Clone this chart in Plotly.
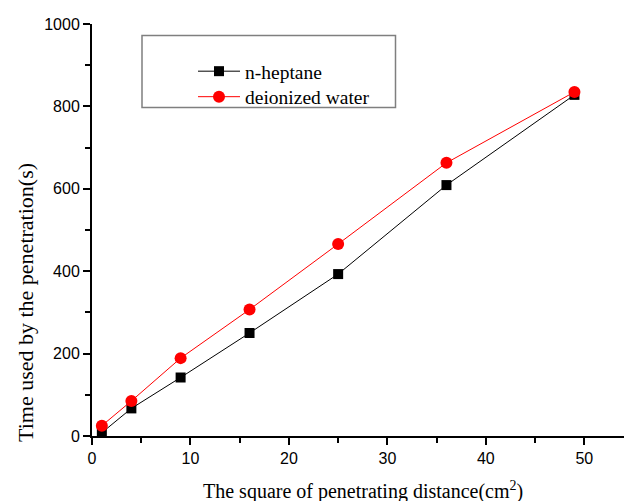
import plotly.graph_objects as go

x_vals = [1, 4, 9, 16, 25, 36, 49]
heptane = [8, 67, 142, 250, 393, 609, 828]
water = [25, 85, 189, 307, 466, 663, 835]
x_ticks = [0, 10, 20, 30, 40, 50]
y_ticks = [0, 200, 400, 600, 800, 1000]

L, R, T, B = 92, 0, 24, 65
W, H = 624, 501
pw = W - L - R
ph = H - T - B

def px(x):
    return (x - L) / pw

def py(y):
    return (H - B - y) / ph

fig = go.Figure()
fig.add_trace(go.Scatter(
    x=x_vals, y=heptane, name="n-heptane", mode="lines+markers",
    line=dict(color="#000000", width=1),
    marker=dict(symbol="square", size=10, color="#000000"),
    legend="legend",
))
fig.add_trace(go.Scatter(
    x=x_vals, y=water, name="deionized water", mode="lines+markers",
    line=dict(color="#ff0000", width=1),
    marker=dict(symbol="circle", size=12, color="#ff0000"),
    legend="legend2",
))

axis_common = dict(
    showline=True, linecolor="black", linewidth=2, mirror=False,
    showgrid=False, zeroline=False,
    ticks="outside", ticklen=7, tickwidth=2, tickcolor="black",
    tickfont=dict(family="Liberation Sans", size=16, color="black"),
)

fig.update_xaxes(range=[0, (W - R - L) / 9.846], tickvals=x_ticks,
                 minor=dict(dtick=5, tick0=0, ticks="outside", ticklen=5, tickwidth=2, tickcolor="black"),
                 **axis_common)
fig.update_yaxes(range=[0, 1000], tickvals=y_ticks,
                 minor=dict(dtick=100, tick0=0, ticks="outside", ticklen=5, tickwidth=2, tickcolor="black"),
                 **axis_common)

fig.add_shape(type="rect", xref="paper", yref="paper",
              x0=px(142), x1=px(395.5), y0=py(107.5), y1=py(35.5),
              line=dict(color="#7f7f7f", width=1.5), fillcolor="rgba(0,0,0,0)")

serif = "Liberation Serif"
fig.add_annotation(xref="paper", yref="paper", x=px(363), y=py(490),
                   text="The square of penetrating distance(cm<sup>2</sup>)",
                   showarrow=False, xanchor="center", yanchor="middle",
                   font=dict(family=serif, size=20, color="black"))
fig.add_annotation(xref="paper", yref="paper", x=px(25), y=py(303),
                   text="Time used by the penetration(s)", textangle=-90,
                   showarrow=False, xanchor="center", yanchor="middle",
                   font=dict(family=serif, size=22, color="black"))

leg_common = dict(xanchor="left", yanchor="top", bgcolor="rgba(0,0,0,0)", borderwidth=0,
                  itemwidth=42, font=dict(family=serif, size=19.5, color="black"))

fig.update_layout(
    width=W, height=H,
    margin=dict(l=L, r=R, t=T, b=B),
    paper_bgcolor="white", plot_bgcolor="white",
    showlegend=True,
    legend=dict(x=px(193), y=py(52), **leg_common),
    legend2=dict(x=px(193), y=py(77.5), **leg_common),
)

fig.write_html("out.html")
